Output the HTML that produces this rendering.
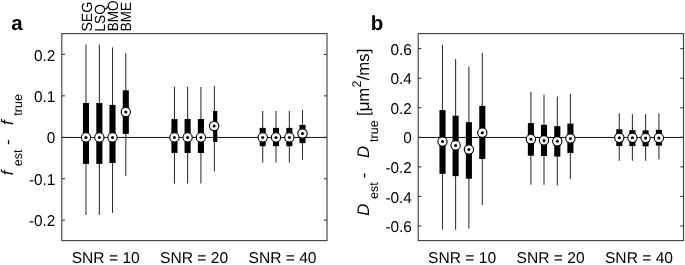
<!DOCTYPE html>
<html lang="en"><head><meta charset="utf-8"><title>Figure</title>
<style>html,body{margin:0;padding:0;background:#fff;}body{width:685px;height:265px;overflow:hidden;}svg{display:block;}text{font-family:"Liberation Sans",Arial,Helvetica,sans-serif;fill:#000;text-rendering:geometricPrecision;}</style></head><body>
<svg width="685" height="265" viewBox="0 0 685 265">
<rect x="0" y="0" width="685" height="265" fill="#fff"/>
<g>
<line x1="61.8" y1="137.45" x2="327" y2="137.45" stroke="#111" stroke-width="1"/>
<line x1="86" y1="44.6" x2="86" y2="215" stroke="#2e2e2e" stroke-width="1.05"/>
<rect x="82.95" y="103" width="6.1" height="60.9" fill="#000"/>
<line x1="99.35" y1="44.6" x2="99.35" y2="215" stroke="#2e2e2e" stroke-width="1.05"/>
<rect x="96.3" y="103" width="6.1" height="60.9" fill="#000"/>
<line x1="112.5" y1="47.4" x2="112.5" y2="213" stroke="#2e2e2e" stroke-width="1.05"/>
<rect x="109.45" y="104.9" width="6.1" height="58.1" fill="#000"/>
<line x1="125.8" y1="53.2" x2="125.8" y2="176" stroke="#2e2e2e" stroke-width="1.05"/>
<rect x="122.75" y="90.3" width="6.1" height="43.6" fill="#000"/>
<line x1="174.45" y1="86.8" x2="174.45" y2="183.5" stroke="#2e2e2e" stroke-width="1.05"/>
<rect x="171.4" y="119" width="6.1" height="34" fill="#000"/>
<line x1="187.6" y1="86.8" x2="187.6" y2="183.5" stroke="#2e2e2e" stroke-width="1.05"/>
<rect x="184.55" y="119" width="6.1" height="34" fill="#000"/>
<line x1="200.9" y1="87" x2="200.9" y2="183.5" stroke="#2e2e2e" stroke-width="1.05"/>
<rect x="197.85" y="119" width="6.1" height="34" fill="#000"/>
<line x1="214.4" y1="86" x2="214.4" y2="171.5" stroke="#2e2e2e" stroke-width="1.05"/>
<rect x="213.1" y="111" width="4.2" height="31" fill="#000"/>
<line x1="262.7" y1="110.9" x2="262.7" y2="162.5" stroke="#2e2e2e" stroke-width="1.05"/>
<rect x="259.65" y="127.9" width="6.1" height="18.3" fill="#000"/>
<line x1="276" y1="110.9" x2="276" y2="162.5" stroke="#2e2e2e" stroke-width="1.05"/>
<rect x="272.95" y="127.9" width="6.1" height="18.3" fill="#000"/>
<line x1="289.35" y1="110.9" x2="289.35" y2="162.5" stroke="#2e2e2e" stroke-width="1.05"/>
<rect x="286.3" y="127.9" width="6.1" height="18.3" fill="#000"/>
<line x1="302.5" y1="109.9" x2="302.5" y2="159.8" stroke="#2e2e2e" stroke-width="1.05"/>
<rect x="299.45" y="124.9" width="6.1" height="18.2" fill="#000"/>
<circle cx="86" cy="137.4" r="4.65" fill="#fff" stroke="#000" stroke-width="1.1"/>
<circle cx="86" cy="137.4" r="1.5" fill="#000"/>
<circle cx="99.35" cy="137.4" r="4.65" fill="#fff" stroke="#000" stroke-width="1.1"/>
<circle cx="99.35" cy="137.4" r="1.5" fill="#000"/>
<circle cx="112.5" cy="137.4" r="4.65" fill="#fff" stroke="#000" stroke-width="1.1"/>
<circle cx="112.5" cy="137.4" r="1.5" fill="#000"/>
<circle cx="125.8" cy="112" r="4.65" fill="#fff" stroke="#000" stroke-width="1.1"/>
<circle cx="125.8" cy="112" r="1.5" fill="#000"/>
<circle cx="174.45" cy="137.4" r="4.65" fill="#fff" stroke="#000" stroke-width="1.1"/>
<circle cx="174.45" cy="137.4" r="1.5" fill="#000"/>
<circle cx="187.6" cy="137.4" r="4.65" fill="#fff" stroke="#000" stroke-width="1.1"/>
<circle cx="187.6" cy="137.4" r="1.5" fill="#000"/>
<circle cx="200.9" cy="137.4" r="4.65" fill="#fff" stroke="#000" stroke-width="1.1"/>
<circle cx="200.9" cy="137.4" r="1.5" fill="#000"/>
<circle cx="214.15" cy="126" r="4.65" fill="#fff" stroke="#000" stroke-width="1.1"/>
<circle cx="214.15" cy="126" r="1.5" fill="#000"/>
<circle cx="262.7" cy="137.4" r="4.65" fill="#fff" stroke="#000" stroke-width="1.1"/>
<circle cx="262.7" cy="137.4" r="1.5" fill="#000"/>
<circle cx="276" cy="137.4" r="4.65" fill="#fff" stroke="#000" stroke-width="1.1"/>
<circle cx="276" cy="137.4" r="1.5" fill="#000"/>
<circle cx="289.35" cy="137.4" r="4.65" fill="#fff" stroke="#000" stroke-width="1.1"/>
<circle cx="289.35" cy="137.4" r="1.5" fill="#000"/>
<circle cx="302.5" cy="133.5" r="4.65" fill="#fff" stroke="#000" stroke-width="1.1"/>
<circle cx="302.5" cy="133.5" r="1.5" fill="#000"/>
<rect x="61.8" y="33.6" width="265.2" height="207" fill="none" stroke="#444" stroke-width="1.15"/>
<line x1="61.8" y1="54.4" x2="65" y2="54.4" stroke="#333" stroke-width="1.05"/>
<line x1="323.8" y1="54.4" x2="327" y2="54.4" stroke="#333" stroke-width="1.05"/>
<text transform="translate(55.4,60.5) scale(0.985,1)" font-size="15.6" text-anchor="end">0.2</text>
<line x1="61.8" y1="95.85" x2="65" y2="95.85" stroke="#333" stroke-width="1.05"/>
<line x1="323.8" y1="95.85" x2="327" y2="95.85" stroke="#333" stroke-width="1.05"/>
<text transform="translate(55.4,101.95) scale(0.985,1)" font-size="15.6" text-anchor="end">0.1</text>
<line x1="61.8" y1="137.3" x2="65" y2="137.3" stroke="#333" stroke-width="1.05"/>
<line x1="323.8" y1="137.3" x2="327" y2="137.3" stroke="#333" stroke-width="1.05"/>
<text transform="translate(55.4,143.4) scale(0.985,1)" font-size="15.6" text-anchor="end">0</text>
<line x1="61.8" y1="178.75" x2="65" y2="178.75" stroke="#333" stroke-width="1.05"/>
<line x1="323.8" y1="178.75" x2="327" y2="178.75" stroke="#333" stroke-width="1.05"/>
<text transform="translate(55.4,184.85) scale(0.985,1)" font-size="15.6" text-anchor="end">-0.1</text>
<line x1="61.8" y1="220.2" x2="65" y2="220.2" stroke="#333" stroke-width="1.05"/>
<line x1="323.8" y1="220.2" x2="327" y2="220.2" stroke="#333" stroke-width="1.05"/>
<text transform="translate(55.4,226.3) scale(0.985,1)" font-size="15.6" text-anchor="end">-0.2</text>
<text transform="translate(105.7,262.7) scale(1.0,1)" font-size="15.6" text-anchor="middle">SNR = 10</text>
<text transform="translate(194.1,262.7) scale(1.0,1)" font-size="15.6" text-anchor="middle">SNR = 20</text>
<text transform="translate(282.5,262.7) scale(1.0,1)" font-size="15.6" text-anchor="middle">SNR = 40</text>
</g>
<g>
<line x1="418.2" y1="137.45" x2="683.5" y2="137.45" stroke="#111" stroke-width="1"/>
<line x1="442.5" y1="44.8" x2="442.5" y2="229.7" stroke="#2e2e2e" stroke-width="1.05"/>
<rect x="439.45" y="110.1" width="6.1" height="63.8" fill="#000"/>
<line x1="455.6" y1="58.9" x2="455.6" y2="229.7" stroke="#2e2e2e" stroke-width="1.05"/>
<rect x="452.55" y="115.7" width="6.1" height="60.4" fill="#000"/>
<line x1="468.9" y1="66.4" x2="468.9" y2="228.5" stroke="#2e2e2e" stroke-width="1.05"/>
<rect x="465.85" y="122.2" width="6.1" height="56.5" fill="#000"/>
<line x1="482.3" y1="52.8" x2="482.3" y2="205.1" stroke="#2e2e2e" stroke-width="1.05"/>
<rect x="479.25" y="105.9" width="6.1" height="53.1" fill="#000"/>
<line x1="530.9" y1="91.8" x2="530.9" y2="184.8" stroke="#2e2e2e" stroke-width="1.05"/>
<rect x="527.85" y="123.1" width="6.1" height="32.6" fill="#000"/>
<line x1="544" y1="94.8" x2="544" y2="184.8" stroke="#2e2e2e" stroke-width="1.05"/>
<rect x="540.95" y="124.8" width="6.1" height="31.2" fill="#000"/>
<line x1="557.3" y1="96.6" x2="557.3" y2="185.6" stroke="#2e2e2e" stroke-width="1.05"/>
<rect x="554.25" y="126.2" width="6.1" height="30.4" fill="#000"/>
<line x1="570.4" y1="93.9" x2="570.4" y2="179.1" stroke="#2e2e2e" stroke-width="1.05"/>
<rect x="567.35" y="123.6" width="6.1" height="29.4" fill="#000"/>
<line x1="619.3" y1="113.3" x2="619.3" y2="160.7" stroke="#2e2e2e" stroke-width="1.05"/>
<rect x="616.25" y="129.3" width="6.1" height="16.7" fill="#000"/>
<line x1="632.4" y1="114" x2="632.4" y2="160.7" stroke="#2e2e2e" stroke-width="1.05"/>
<rect x="629.35" y="130.2" width="6.1" height="15.9" fill="#000"/>
<line x1="645.6" y1="114" x2="645.6" y2="160.7" stroke="#2e2e2e" stroke-width="1.05"/>
<rect x="642.55" y="130.4" width="6.1" height="15.9" fill="#000"/>
<line x1="658.9" y1="113.3" x2="658.9" y2="159.6" stroke="#2e2e2e" stroke-width="1.05"/>
<rect x="655.85" y="129.8" width="6.1" height="15.8" fill="#000"/>
<circle cx="442.5" cy="141.6" r="4.65" fill="#fff" stroke="#000" stroke-width="1.1"/>
<circle cx="442.5" cy="141.6" r="1.5" fill="#000"/>
<circle cx="455.6" cy="145.4" r="4.65" fill="#fff" stroke="#000" stroke-width="1.1"/>
<circle cx="455.6" cy="145.4" r="1.5" fill="#000"/>
<circle cx="468.9" cy="149.5" r="4.65" fill="#fff" stroke="#000" stroke-width="1.1"/>
<circle cx="468.9" cy="149.5" r="1.5" fill="#000"/>
<circle cx="482.3" cy="132.7" r="4.65" fill="#fff" stroke="#000" stroke-width="1.1"/>
<circle cx="482.3" cy="132.7" r="1.5" fill="#000"/>
<circle cx="530.9" cy="139.2" r="4.65" fill="#fff" stroke="#000" stroke-width="1.1"/>
<circle cx="530.9" cy="139.2" r="1.5" fill="#000"/>
<circle cx="544" cy="140.4" r="4.65" fill="#fff" stroke="#000" stroke-width="1.1"/>
<circle cx="544" cy="140.4" r="1.5" fill="#000"/>
<circle cx="557.3" cy="141.3" r="4.65" fill="#fff" stroke="#000" stroke-width="1.1"/>
<circle cx="557.3" cy="141.3" r="1.5" fill="#000"/>
<circle cx="570.4" cy="138.5" r="4.65" fill="#fff" stroke="#000" stroke-width="1.1"/>
<circle cx="570.4" cy="138.5" r="1.5" fill="#000"/>
<circle cx="619.3" cy="137.8" r="4.65" fill="#fff" stroke="#000" stroke-width="1.1"/>
<circle cx="619.3" cy="137.8" r="1.5" fill="#000"/>
<circle cx="632.4" cy="137.8" r="4.65" fill="#fff" stroke="#000" stroke-width="1.1"/>
<circle cx="632.4" cy="137.8" r="1.5" fill="#000"/>
<circle cx="645.6" cy="138.1" r="4.65" fill="#fff" stroke="#000" stroke-width="1.1"/>
<circle cx="645.6" cy="138.1" r="1.5" fill="#000"/>
<circle cx="658.9" cy="137.9" r="4.65" fill="#fff" stroke="#000" stroke-width="1.1"/>
<circle cx="658.9" cy="137.9" r="1.5" fill="#000"/>
<rect x="418.2" y="33.6" width="265.3" height="207" fill="none" stroke="#444" stroke-width="1.15"/>
<line x1="418.2" y1="48.62" x2="421.4" y2="48.62" stroke="#333" stroke-width="1.05"/>
<line x1="680.3" y1="48.62" x2="683.5" y2="48.62" stroke="#333" stroke-width="1.05"/>
<text transform="translate(411.9,54.72) scale(0.985,1)" font-size="15.6" text-anchor="end">0.6</text>
<line x1="418.2" y1="78.18" x2="421.4" y2="78.18" stroke="#333" stroke-width="1.05"/>
<line x1="680.3" y1="78.18" x2="683.5" y2="78.18" stroke="#333" stroke-width="1.05"/>
<text transform="translate(411.9,84.28) scale(0.985,1)" font-size="15.6" text-anchor="end">0.4</text>
<line x1="418.2" y1="107.74" x2="421.4" y2="107.74" stroke="#333" stroke-width="1.05"/>
<line x1="680.3" y1="107.74" x2="683.5" y2="107.74" stroke="#333" stroke-width="1.05"/>
<text transform="translate(411.9,113.84) scale(0.985,1)" font-size="15.6" text-anchor="end">0.2</text>
<line x1="418.2" y1="137.3" x2="421.4" y2="137.3" stroke="#333" stroke-width="1.05"/>
<line x1="680.3" y1="137.3" x2="683.5" y2="137.3" stroke="#333" stroke-width="1.05"/>
<text transform="translate(411.9,143.4) scale(0.985,1)" font-size="15.6" text-anchor="end">0</text>
<line x1="418.2" y1="166.86" x2="421.4" y2="166.86" stroke="#333" stroke-width="1.05"/>
<line x1="680.3" y1="166.86" x2="683.5" y2="166.86" stroke="#333" stroke-width="1.05"/>
<text transform="translate(411.9,172.96) scale(0.985,1)" font-size="15.6" text-anchor="end">-0.2</text>
<line x1="418.2" y1="196.42" x2="421.4" y2="196.42" stroke="#333" stroke-width="1.05"/>
<line x1="680.3" y1="196.42" x2="683.5" y2="196.42" stroke="#333" stroke-width="1.05"/>
<text transform="translate(411.9,202.52) scale(0.985,1)" font-size="15.6" text-anchor="end">-0.4</text>
<line x1="418.2" y1="225.98" x2="421.4" y2="225.98" stroke="#333" stroke-width="1.05"/>
<line x1="680.3" y1="225.98" x2="683.5" y2="225.98" stroke="#333" stroke-width="1.05"/>
<text transform="translate(411.9,232.08) scale(0.985,1)" font-size="15.6" text-anchor="end">-0.6</text>
<text transform="translate(462.12,262.7) scale(1.0,1)" font-size="15.6" text-anchor="middle">SNR = 10</text>
<text transform="translate(550.55,262.7) scale(1.0,1)" font-size="15.6" text-anchor="middle">SNR = 20</text>
<text transform="translate(638.98,262.7) scale(1.0,1)" font-size="15.6" text-anchor="middle">SNR = 40</text>
</g>
<text x="11.3" y="29.6" font-size="20.5" font-weight="bold">a</text>
<text x="370.8" y="29.6" font-size="20.5" font-weight="bold">b</text>
<text transform="translate(91.8,31.6) rotate(-90) scale(0.955,1)" font-size="14.8">SEG</text>
<text transform="translate(105,31.7) rotate(-90) scale(0.93,1)" font-size="14.8">LSQ</text>
<text transform="translate(118.2,31.3) rotate(-90) scale(0.92,1)" font-size="14.8">BMO</text>
<text transform="translate(131.3,31.3) rotate(-90) scale(0.91,1)" font-size="14.8">BME</text>
<text transform="translate(13.3,175.2) rotate(-90)" font-size="16.8" font-style="italic">f</text>
<text transform="translate(21.9,166.2) rotate(-90)" font-size="12.5">est</text>
<text transform="translate(13.3,144.9) rotate(-90)" font-size="16.8">-</text>
<text transform="translate(13.3,125) rotate(-90)" font-size="16.8" font-style="italic">f</text>
<text transform="translate(21.9,115.7) rotate(-90)" font-size="12.5">true</text>
<text transform="translate(369.4,215.7) rotate(-90)" font-size="16.8" font-style="italic">D</text>
<text transform="translate(378,199) rotate(-90)" font-size="12.5">est</text>
<text transform="translate(369.4,178.2) rotate(-90)" font-size="16.8">-</text>
<text transform="translate(369.4,157.9) rotate(-90)" font-size="16.8" font-style="italic">D</text>
<text transform="translate(378,141.9) rotate(-90)" font-size="12.5">true</text>
<text transform="translate(369.4,116) rotate(-90)" font-size="16.8">[μm</text>
<text transform="translate(360.6,87.6) rotate(-90)" font-size="12.5">2</text>
<text transform="translate(369.4,80.3) rotate(-90)" font-size="16.8">/ms]</text>
</svg></body></html>
